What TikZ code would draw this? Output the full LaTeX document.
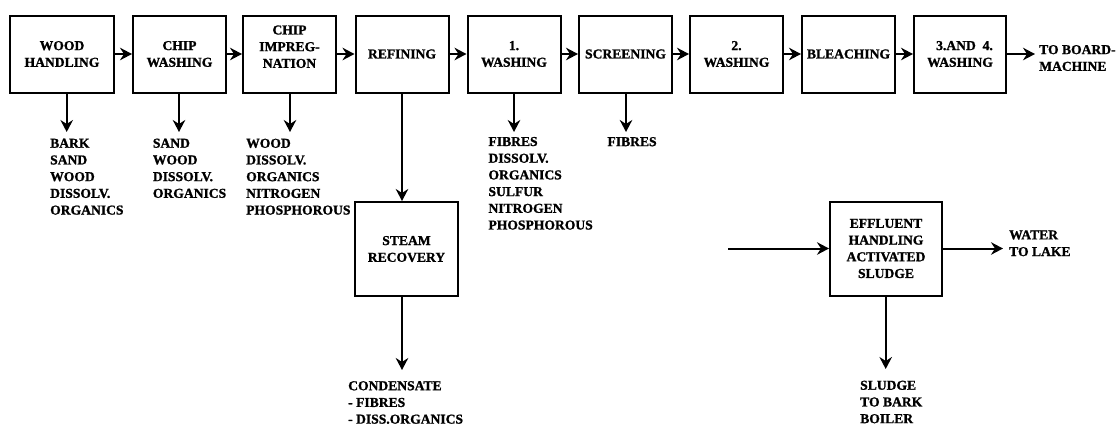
\documentclass[tikz,border=0pt]{standalone}
\usepackage{fontspec}
\setmainfont{Liberation Serif}[BoldFeatures={FakeBold=1.2}]
\usetikzlibrary{arrows.meta}
\newcommand\diagfont{\fontsize{13.6}{16.7}\selectfont\bfseries}
\begin{document}
\begin{tikzpicture}[x=1pt,y=-1pt,
  box/.style={draw, line width=2pt, minimum width=93pt, minimum height=77pt, inner sep=0pt, align=center, font=\diagfont},
  txt/.style={inner sep=0pt, align=center, font=\diagfont},
  lbl/.style={inner sep=0pt, align=left, font=\diagfont, anchor=west},
  flow/.style={line width=2pt, -{Stealth[length=12pt,width=12.5pt,inset=4pt]}}]
\useasboundingbox (0,0) rectangle (1118,426);
% top row
\node[box, minimum width=104pt] (b1) at (62,54) {WOOD\\HANDLING};
\node[box] (b2) at (179.5,54) {CHIP\\WASHING};
\node[box] (b3) at (289.5,54) {};
\node[txt] (b3t) at (289.5,46.7) {CHIP\\IMPREG-\\NATION};
\node[box] (b4) at (402,54) {REFINING};
\node[box] (b5) at (514,54) {1.\\WASHING};
\node[box] (b6) at (625.5,54) {SCREENING};
\node[box] (b7) at (736.5,54) {2.\\WASHING};
\node[box] (b8) at (848.5,54) {BLEACHING};
\node[box, minimum width=92pt] (b9) at (960,54) {\hspace*{9pt}3.AND~~4.\\WASHING};
\draw[flow] (b1.east) -- (b2.west);
\draw[flow] (b2.east) -- (b3.west);
\draw[flow] (b3.east) -- (b4.west);
\draw[flow] (b4.east) -- (b5.west);
\draw[flow] (b5.east) -- (b6.west);
\draw[flow] (b6.east) -- (b7.west);
\draw[flow] (b7.east) -- (b8.west);
\draw[flow] (b8.east) -- (b9.west);
\coordinate (out) at (1035,54);
\draw[flow] (b9.east) -- (out);
\node[lbl] (tb) at (1039,58) {TO BOARD-\\MACHINE};
% outputs of top row
\coordinate (d1) at (66.7,132);
\coordinate (d2) at (179,132);
\coordinate (d3) at (290,132);
\coordinate (d5) at (514,132);
\coordinate (d6) at (626,132);
\draw[flow] (b1.south -| d1) -- (d1);
\draw[flow] (b2.south -| d2) -- (d2);
\draw[flow] (b3.south -| d3) -- (d3);
\draw[flow] (b5.south -| d5) -- (d5);
\draw[flow] (b6.south -| d6) -- (d6);
\node[lbl] (l1) at (50,176.7) {BARK\\SAND\\WOOD\\DISSOLV.\\ORGANICS};
\node[lbl] (l2) at (152.7,168.3) {SAND\\WOOD\\DISSOLV.\\ORGANICS};
\node[lbl] (l3) at (246,176.7) {WOOD\\DISSOLV.\\ORGANICS\\NITROGEN\\PHOSPHOROUS};
\node[lbl] (l5) at (488.3,183.3) {FIBRES\\DISSOLV.\\ORGANICS\\SULFUR\\NITROGEN\\PHOSPHOROUS};
\node[lbl] (l6) at (607.3,141.7) {FIBRES};
% steam recovery
\node[box, minimum width=103pt, minimum height=94pt] (st) at (406.5,249) {STEAM\\RECOVERY};
\draw[flow] (b4.south) -- (b4.south |- st.north);
\coordinate (d4) at (402,370);
\draw[flow] (st.south -| d4) -- (d4);
\node[lbl] (l4) at (348,402.5) {CONDENSATE\\- FIBRES\\- DISS.ORGANICS};
% effluent handling
\node[box, minimum width=112pt, minimum height=94pt] (ef) at (886,248.5) {EFFLUENT\\HANDLING\\ACTIVATED\\SLUDGE};
\coordinate (ein) at (728,248.5);
\draw[flow] (ein) -- (ef.west);
\coordinate (eout) at (1003,248.5);
\draw[flow] (ef.east) -- (eout);
\node[lbl] (wl) at (1009,243.3) {WATER\\TO LAKE};
\coordinate (de) at (885.7,369);
\draw[flow] (ef.south -| de) -- (de);
\node[lbl] (sl) at (860,402) {SLUDGE\\TO BARK\\BOILER};
\end{tikzpicture}
\end{document}
